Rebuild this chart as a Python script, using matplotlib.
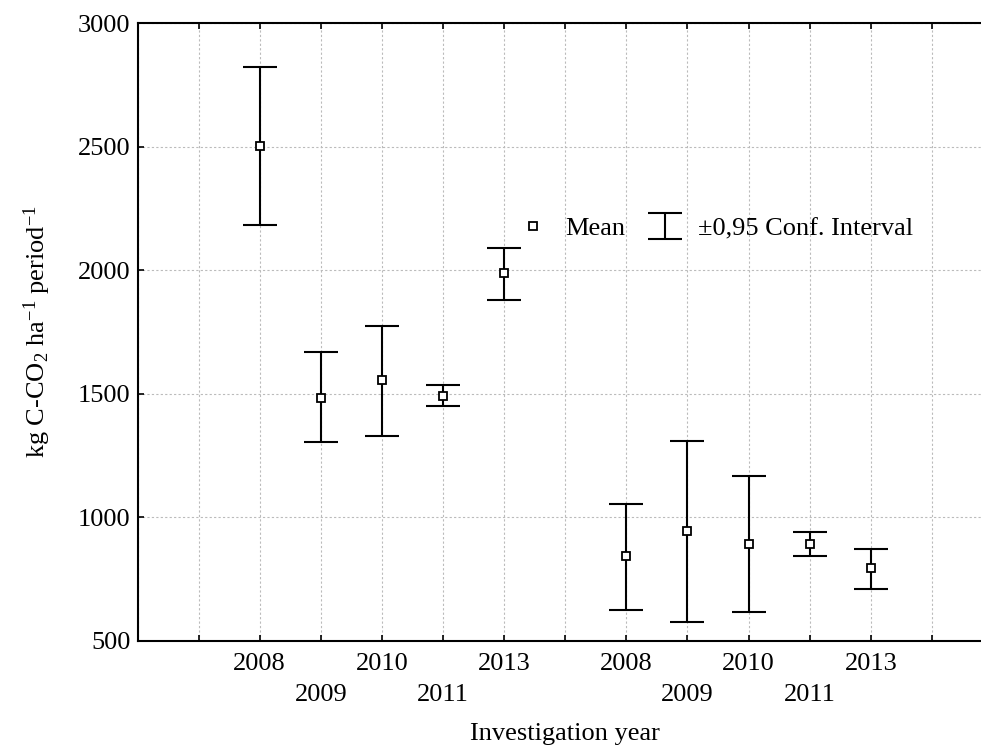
import matplotlib
matplotlib.use('Agg')
import matplotlib.pyplot as plt

# positions on the category axis (gap at 7 between the two groups)
positions = [2, 3, 4, 5, 6, 8, 9, 10, 11, 12]
years = ['2008', '2009', '2010', '2011', '2013', '2008', '2009', '2010', '2011', '2013']

# values
means = [2504, 1484, 1557, 1492, 1987, 845, 943, 893, 893, 797]
upper = [2823, 1668, 1773, 1534, 2088, 1055, 1308, 1167, 939, 872]
lower = [2183, 1305, 1331, 1449, 1878, 625, 577, 619, 845, 712]

plt.rcParams['font.family'] = 'Liberation Serif'
plt.rcParams['mathtext.fontset'] = 'custom'
plt.rcParams['mathtext.rm'] = 'Liberation Serif'
plt.rcParams['mathtext.it'] = 'Liberation Serif:italic'

fig = plt.figure(figsize=(9.81, 7.49), dpi=100)
ax = fig.add_axes([0.1402, 0.1442, 0.872, 0.825])

yerr = [[m - lo for m, lo in zip(means, lower)],
        [hi - m for m, hi in zip(means, upper)]]

ax.errorbar(positions, means, yerr=yerr, fmt='none', ecolor='black',
            elinewidth=1.5, capsize=12, capthick=1.5,
            label='±0,95 Conf. Interval', zorder=3)
ax.plot(positions, means, 's', mfc='white', mec='black', mew=1.3, ms=5.5,
        label='Mean', zorder=4)

ax.set_xlim(0, 14)
ax.set_ylim(500, 3000)
ax.set_yticks([500, 1000, 1500, 2000, 2500, 3000])

# staggered tick labels: odd positions drop to a second row
ticklabels = [''] * 15
for p, y in zip(positions, years):
    ticklabels[p] = y if p % 2 == 0 else '\n' + y
ax.set_xticks(range(15))
ax.set_xticklabels(ticklabels, fontsize=19, linespacing=1.5)
for lbl in ax.get_yticklabels():
    lbl.set_fontsize(19)

ax.tick_params(direction='in', length=4, width=1.2, top=True, right=False)
ax.tick_params(axis='x', pad=9)
ax.tick_params(axis='y', pad=5)
ax.grid(True, color='#bbbbbb', linestyle=(0, (2, 2)), linewidth=0.8)
ax.set_axisbelow(True)

for s in ax.spines.values():
    s.set_linewidth(1.5)

ax.set_xlabel('Investigation year', fontsize=19, labelpad=12)
ax.set_ylabel(r'kg C-CO$_2$ ha$^{-1}$ period$^{-1}$', fontsize=19, labelpad=18)

ax.legend(ncol=2, frameon=False, fontsize=19, loc='center',
          bbox_to_anchor=(0.672, 0.668),
          handlelength=1.6, columnspacing=0.7, handletextpad=0.45)

fig.savefig('out.png', dpi=100)
